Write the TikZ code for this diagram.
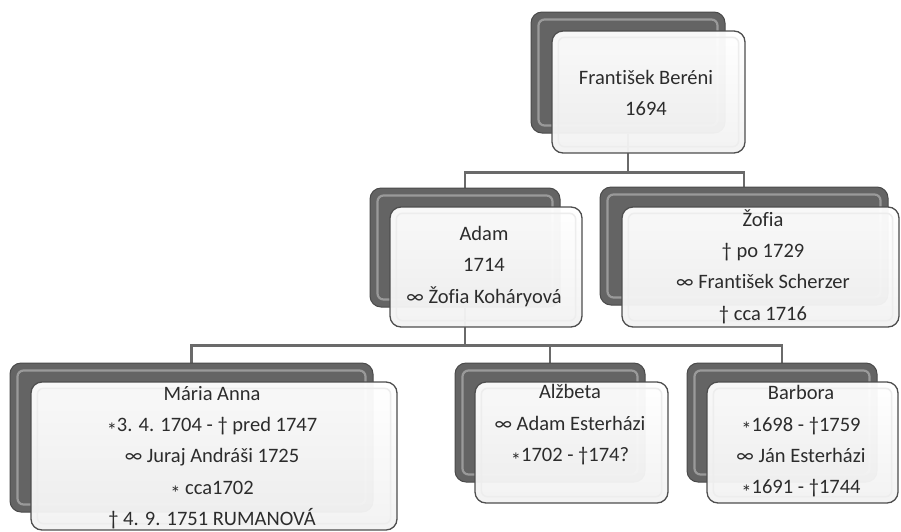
\documentclass[tikz,border=0pt]{standalone}
\usepackage{fontspec}
\setmainfont[Ligatures=NoCommon]{Carlito}
\usetikzlibrary{backgrounds}
\definecolor{conn}{HTML}{6A6A6A}
\definecolor{darkfill}{HTML}{646464}
\definecolor{darkedge}{HTML}{4A4A4A}
\definecolor{hilite}{HTML}{A8A8A8}
\definecolor{whiteedge}{HTML}{4E4E4E}
\definecolor{txtcol}{HTML}{2C2C2C}
\newcommand{\bornmk}{\raisebox{-0.6ex}{*}}
\begin{document}
\begin{tikzpicture}[x=1pt,y=-1pt,
  backbox/.style={draw=darkedge, line width=1pt, rounded corners=11pt, fill=darkfill, inner sep=0pt},
  frontbox/.style={draw=whiteedge, line width=1.3pt, rounded corners=11pt, top color=white, bottom color=black!5, fill opacity=0.96, inner sep=0pt},
  hl/.style={draw=hilite, line width=2.2pt, rounded corners=6pt, opacity=0.8},
  fhl/.style={draw=black!7, line width=1.5pt, rounded corners=6pt},
  txt/.style={align=center, inner sep=0pt, text=txtcol, font=\fontsize{20.5}{31.3}\selectfont},
  link/.style={draw=conn, line width=2.8pt}]
\useasboundingbox (0,0) rectangle (901,531);
% back boxes
\node[backbox, minimum width=194pt, minimum height=121pt] (topD) at (628,72.5) {};
\node[backbox, minimum width=190pt, minimum height=119pt] (adamD) at (465,247.5) {};
\node[backbox, minimum width=288pt, minimum height=118pt] (zofD) at (744,246) {};
\node[backbox, minimum width=363pt, minimum height=149pt] (mariaD) at (191.5,437.5) {};
\node[backbox, minimum width=190pt, minimum height=119pt] (alzD) at (550,422.5) {};
\node[backbox, minimum width=190pt, minimum height=119pt] (barD) at (782,422.5) {};
\foreach \n in {topD,adamD,zofD,mariaD,alzD,barD}{
  \draw[hl] ([xshift=8pt,yshift=-8pt]\n.north west) rectangle ([xshift=-8pt,yshift=8pt]\n.south east);
}
% front boxes
\node[frontbox, minimum width=193pt, minimum height=122pt] (topW) at (648.5,92) {};
\node[frontbox, minimum width=192pt, minimum height=120pt] (adamW) at (486,267) {};
\node[frontbox, minimum width=277pt, minimum height=120pt] (zofW) at (760.5,267) {};
\node[frontbox, minimum width=366pt, minimum height=148pt] (mariaW) at (214,456) {};
\node[frontbox, minimum width=193pt, minimum height=121pt] (alzW) at (571.5,442.5) {};
\node[frontbox, minimum width=191pt, minimum height=121pt] (barW) at (802.5,442.5) {};
\foreach \n in {topW,adamW,zofW,mariaW,alzW,barW}{
  \draw[fhl] ([xshift=7pt,yshift=-7pt]\n.north west) rectangle ([xshift=-7pt,yshift=7pt]\n.south east);
}
% texts
\node[txt] (topT) at (646,93) {František Beréni\\1694};
\node[txt] (adamT) at (484,266.5) {Adam\\1714\\∞ Žofia Koháryová};
\node[txt] (zofT) at (763,266.5) {Žofia\\† po 1729\\∞ František Scherzer\\† cca 1716};
\node[txt] (mariaT) at (212,457.5) {Mária Anna\\\bornmk3. 4. 1704 - † pred 1747\\∞ Juraj Andráši 1725\\\bornmk{} cca1702\\† 4. 9. 1751 RUMANOVÁ};
\node[txt] (alzT) at (570,426) {Alžbeta\\∞ Adam Esterházi\\\bornmk1702 - †174?};
\node[txt] (barT) at (801,442.5) {Barbora\\\bornmk1698 - †1759\\∞ Ján Esterházi\\\bornmk1691 - †1744};
% connectors
\begin{scope}[on background layer]
\draw[link] (topD.south) -- ++(0,39) -| (adamD.north);
\draw[link] (topD.south) -- ++(0,39) -| (zofD.north);
\draw[link] (adamD.south) -- ++(0,38) -| (mariaD.north);
\draw[link] (adamD.south) -- ++(0,38) -| (alzD.north);
\draw[link] (adamD.south) -- ++(0,38) -| (barD.north);
\end{scope}
\end{tikzpicture}
\end{document}
